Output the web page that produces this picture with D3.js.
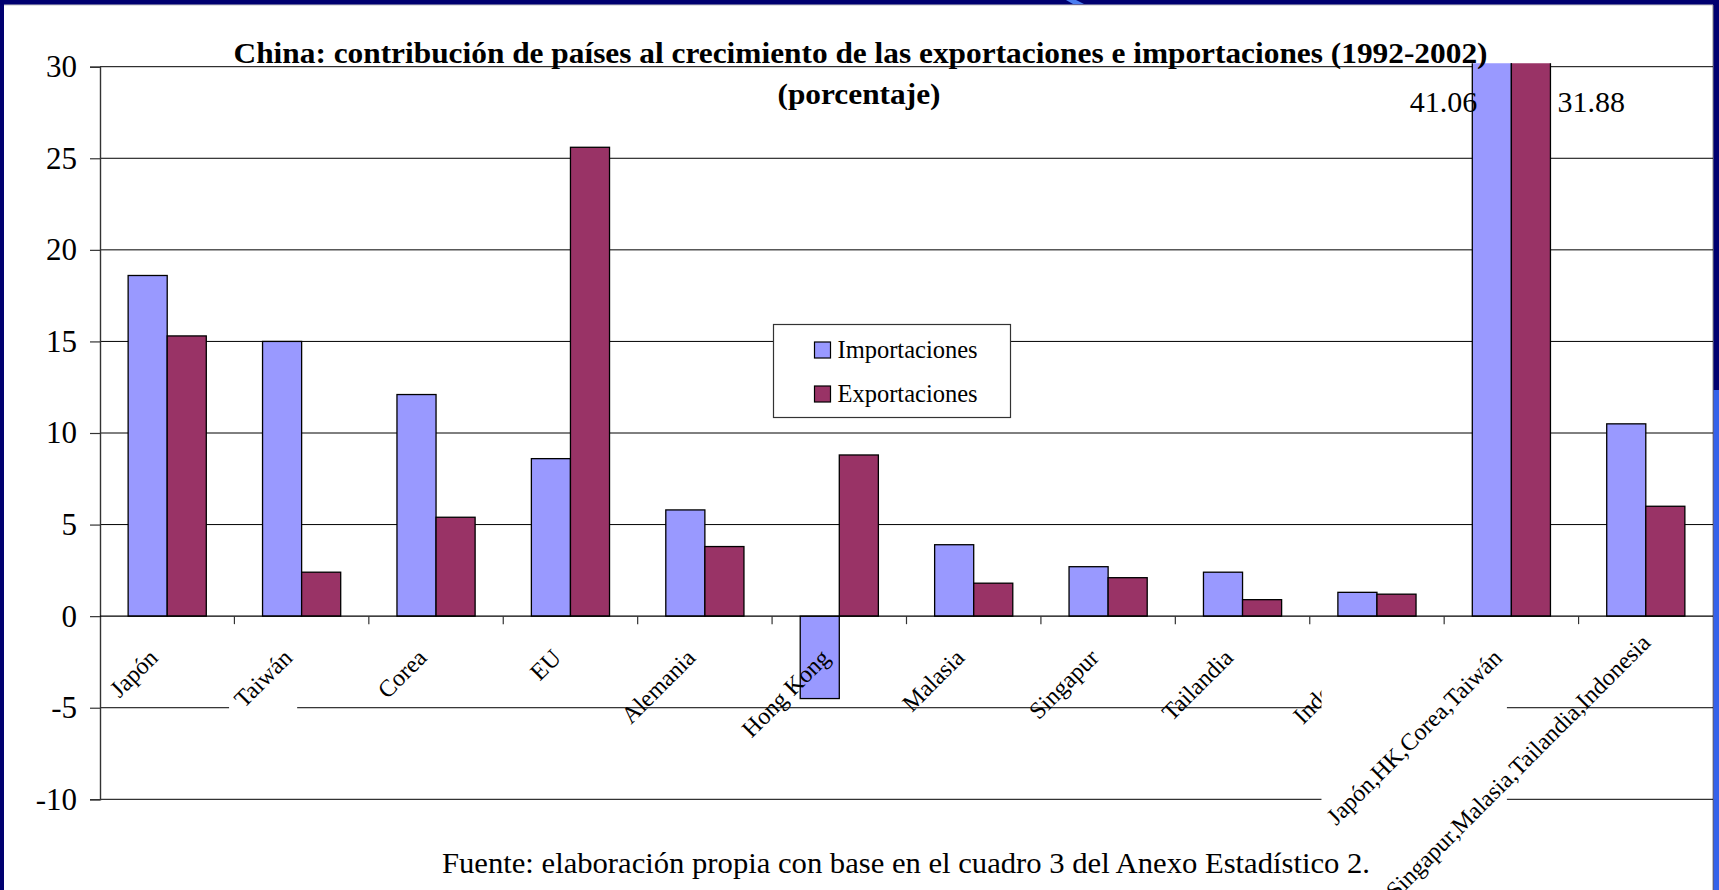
<!DOCTYPE html>
<html>
<head>
<meta charset="utf-8">
<script src="https://cdn.jsdelivr.net/npm/d3@7"></script>
<style>
  html, body { margin: 0; padding: 0; background: #000070; }
  svg { display: block; }
  text { font-family: "Liberation Serif", "Times New Roman", serif; fill: #000; }
</style>
</head>
<body>
<svg id="chart" width="1719" height="890"></svg>
<script>

var categories = ["Japón", "Taiwán", "Corea", "EU", "Alemania", "Hong Kong", "Malasia", "Singapur", "Tailandia", "Indonesia", "Japón,HK,Corea,Taiwán", "Singapur,Malasia,Tailandia,Indonesia"];
var importaciones = [18.6, 15.0, 12.1, 8.6, 5.8, -4.5, 3.9, 2.7, 2.4, 1.3, 41.06, 10.5];
var exportaciones = [15.3, 2.4, 5.4, 25.6, 3.8, 8.8, 1.8, 2.1, 0.9, 1.2, 31.88, 6.0];
var seriesNames = ["Importaciones", "Exportaciones"];
var seriesColors = ["#9999ff", "#993366"];
var yTicks = [-10, -5, 0, 5, 10, 15, 20, 25, 30];

var titleLine1 = "China: contribución de países al crecimiento de las exportaciones e importaciones (1992-2002)";
var titleLine2 = "(porcentaje)";
var footer = "Fuente: elaboración propia con base en el cuadro 3 del Anexo Estadístico 2.";

var width = 1719;
var height = 890;
var svg = d3.select("#chart");

// slide frame
svg.append("rect").attr("x", 4).attr("y", 5).attr("width", 1709).attr("height", 885).attr("fill", "#fff");
svg.append("line").attr("x1", 4).attr("x2", 1713).attr("y1", 5).attr("y2", 5).attr("stroke", "#c8c8c8");
svg.append("rect").attr("x", 1713.5).attr("y", 390).attr("width", 6).attr("height", 500).attr("fill", "#3462ea");
svg.append("line").attr("x1", 1713).attr("x2", 1713).attr("y1", 5).attr("y2", 890).attr("stroke", "#888");
svg.append("path").attr("d", "M1066,0 L1076,0 L1084,4 L1073,4 Z").attr("fill", "#4a7cf0");

var x = d3.scaleBand().domain(categories).range([100, 1713]).paddingInner(0).paddingOuter(0);
var x1 = d3.scaleBand().domain(seriesNames).range([0, x.step()]).paddingInner(0).paddingOuter(0.72);
var y = d3.scaleLinear().domain([-10, 30]).range([799.3, 66.7]);

var data = categories.map(function(c, i) {
    return {category: c, values: [importaciones[i], exportaciones[i]]};
});

// gridlines
svg.append("g").selectAll("line").data(yTicks.filter(function(t) { return t !== 0; })).enter().append("line")
    .attr("x1", 100).attr("x2", 1713)
    .attr("y1", function(d) { return y(d); }).attr("y2", function(d) { return y(d); })
    .attr("stroke", "#000").attr("stroke-width", 1);

// clip for the bars that go past 30
svg.append("clipPath").attr("id", "plotClip").append("rect")
    .attr("x", 100).attr("y", y(30) - 3.5).attr("width", 1613).attr("height", y(-10) - y(30) + 3.5);

var groups = svg.append("g").attr("clip-path", "url(#plotClip)").selectAll("g").data(data).enter().append("g")
    .attr("transform", function(d) { return "translate(" + x(d.category) + ",0)"; });

groups.selectAll("rect").data(function(d) {
    return d.values.map(function(v, j) { return {name: seriesNames[j], value: v, index: j}; });
}).enter().append("rect")
    .attr("x", function(d) { return x1(d.name); })
    .attr("width", x1.bandwidth())
    .attr("y", function(d) { return y(Math.max(0, d.value)); })
    .attr("height", function(d) { return Math.abs(y(d.value) - y(0)); })
    .attr("fill", function(d) { return seriesColors[d.index]; })
    .attr("stroke", "#000").attr("stroke-width", 1.3);

// y axis
var yAxis = d3.axisLeft(y).tickValues(yTicks).tickSize(10).tickPadding(13).tickFormat(function(d) { return String(d); });
var yAxisG = svg.append("g").attr("transform", "translate(100,0)").call(yAxis);
yAxisG.attr("font-family", null);
yAxisG.select(".domain").attr("stroke", "#333").attr("stroke-width", 1.4);
yAxisG.selectAll(".tick line").attr("stroke", "#333").attr("stroke-width", 1.2);
yAxisG.selectAll(".tick text").attr("font-size", 31).attr("fill", "#000");

// x axis (zero line with ticks at category boundaries)
svg.append("line").attr("x1", 100).attr("x2", 1713).attr("y1", y(0)).attr("y2", y(0)).attr("stroke", "#000").attr("stroke-width", 1.3);
svg.append("g").selectAll("line").data(categories.slice(1)).enter().append("line")
    .attr("x1", function(d) { return x(d); }).attr("x2", function(d) { return x(d); })
    .attr("y1", y(0)).attr("y2", y(0) + 8)
    .attr("stroke", "#333").attr("stroke-width", 1.2);

// category labels, rotated; the accented ones carry a white box like in the source image
var labelLayer = svg.append("g");
var svgBox = document.getElementById("chart").getBoundingClientRect();
categories.forEach(function(c) {
    var g = labelLayer.append("g");
    var px = x(c) + x.bandwidth() / 2 - 8;
    var py = y(0) + 43;
    var t = g.append("text")
        .attr("text-anchor", "end")
        .attr("font-size", 24)
        .attr("transform", "translate(" + px + "," + py + ") rotate(-45)")
        .text(c);
    var b = t.node().getBoundingClientRect();
    if (b.bottom - svgBox.top > height) {
        // long label runs off the bottom: Excel nudges it up along its baseline
        t.attr("transform", "translate(" + (px + 14) + "," + (py - 15) + ") rotate(-45)");
        b = t.node().getBoundingClientRect();
    }
    if (/[áéíóú]/.test(c)) {
        g.insert("rect", "text")
            .attr("x", b.left - svgBox.left).attr("y", b.top - svgBox.top)
            .attr("width", b.width).attr("height", b.height)
            .attr("fill", "#fff");
    }
});

// values of the clipped bars
var big = data[10];
svg.append("text").attr("text-anchor", "end").attr("font-size", 30)
    .attr("x", x(big.category) + x1(seriesNames[0]) + 5).attr("y", y(30) + 45)
    .text(big.values[0].toFixed(2));
svg.append("text").attr("text-anchor", "start").attr("font-size", 30)
    .attr("x", x(big.category) + x1(seriesNames[1]) + x1.bandwidth() + 7).attr("y", y(30) + 45)
    .text(big.values[1].toFixed(2));

// title
svg.append("text").attr("x", 860.5).attr("y", 63).attr("text-anchor", "middle")
    .attr("font-size", 30).attr("font-weight", "bold")
    .attr("textLength", 1254).attr("lengthAdjust", "spacingAndGlyphs")
    .text(titleLine1);
svg.append("text").attr("x", 859).attr("y", 103.5).attr("text-anchor", "middle")
    .attr("font-size", 30).attr("font-weight", "bold")
    .attr("textLength", 163).attr("lengthAdjust", "spacingAndGlyphs")
    .text(titleLine2);

// legend
var legend = svg.append("g").attr("transform", "translate(773.5,324.5)");
legend.append("rect").attr("width", 237).attr("height", 93).attr("fill", "#fff").attr("stroke", "#333").attr("stroke-width", 1.2);
var legendItem = legend.selectAll(".item").data(seriesNames).enter().append("g").attr("class", "item")
    .attr("transform", function(d, i) { return "translate(41," + (17.5 + i * 44) + ")"; });
legendItem.append("rect").attr("width", 16).attr("height", 16)
    .attr("fill", function(d, i) { return seriesColors[i]; })
    .attr("stroke", "#000").attr("stroke-width", 1.2);
legendItem.append("text").attr("x", 23).attr("y", 15.5).attr("font-size", 24.5).text(function(d) { return d; });

// source
svg.append("text").attr("x", 906).attr("y", 873).attr("text-anchor", "middle")
    .attr("font-size", 30).attr("textLength", 928).attr("lengthAdjust", "spacingAndGlyphs")
    .text(footer);

</script>
</body>
</html>
